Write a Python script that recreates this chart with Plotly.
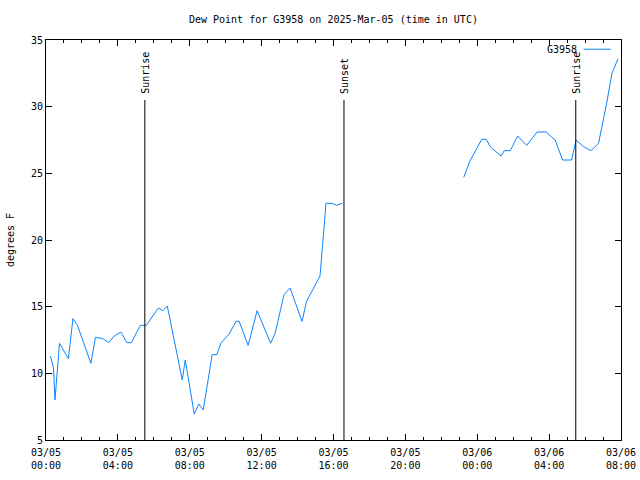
import plotly.graph_objects as go

# ---- data ----
times = [
    "2025-03-05 00:15", "2025-03-05 00:25", "2025-03-05 00:30", "2025-03-05 00:45",
    "2025-03-05 01:15", "2025-03-05 01:30", "2025-03-05 01:45", "2025-03-05 02:30",
    "2025-03-05 02:45", "2025-03-05 03:10", "2025-03-05 03:30", "2025-03-05 03:45",
    "2025-03-05 04:10", "2025-03-05 04:30", "2025-03-05 04:45", "2025-03-05 05:15",
    "2025-03-05 05:35", "2025-03-05 06:15", "2025-03-05 06:30", "2025-03-05 06:45",
    "2025-03-05 07:35", "2025-03-05 07:45", "2025-03-05 08:15", "2025-03-05 08:30",
    "2025-03-05 08:45", "2025-03-05 09:15", "2025-03-05 09:30", "2025-03-05 09:45",
    "2025-03-05 10:10", "2025-03-05 10:35", "2025-03-05 10:45", "2025-03-05 11:15",
    "2025-03-05 11:45", "2025-03-05 12:30", "2025-03-05 12:45", "2025-03-05 13:15",
    "2025-03-05 13:35", "2025-03-05 14:15", "2025-03-05 14:30", "2025-03-05 15:15",
    "2025-03-05 15:35", "2025-03-05 15:55", "2025-03-05 16:10", "2025-03-05 16:30",
    "2025-03-05 20:00",
    "2025-03-05 23:15", "2025-03-05 23:35", "2025-03-06 00:15", "2025-03-06 00:30",
    "2025-03-06 00:45", "2025-03-06 01:20", "2025-03-06 01:30", "2025-03-06 01:50",
    "2025-03-06 02:15", "2025-03-06 02:45", "2025-03-06 03:20", "2025-03-06 03:50",
    "2025-03-06 04:20", "2025-03-06 04:45", "2025-03-06 05:15", "2025-03-06 05:30",
    "2025-03-06 05:55", "2025-03-06 06:20", "2025-03-06 06:45", "2025-03-06 07:10",
    "2025-03-06 07:30", "2025-03-06 07:50",
]
dew_point = [
    11.3, 10.4, 8.0, 12.25,
    11.1, 14.1, 13.6, 10.75,
    12.7, 12.6, 12.3, 12.75,
    13.1, 12.3, 12.3, 13.6,
    13.6, 14.9, 14.7, 15.05,
    9.5, 11.0, 6.95, 7.7,
    7.25, 11.4, 11.4, 12.3,
    12.9, 13.9, 13.9, 12.1,
    14.7, 12.25, 13.0, 15.9,
    16.4, 13.9, 15.4, 17.3,
    22.75, 22.75, 22.6, 22.75,
    None,
    24.7, 25.9, 27.55, 27.55,
    26.95, 26.3, 26.7, 26.7,
    27.8, 27.1, 28.1, 28.1,
    27.5, 26.0, 26.0, 27.5,
    27.0, 26.7, 27.25, 30.0,
    32.5, 33.6,
]
sun_events = ["2025-03-05 05:30", "2025-03-05 16:35", "2025-03-06 05:29"]
sun_labels = ["Sunrise", "Sunset", "Sunrise"]
sun_line_top = 30.5

tick_vals = ["2025-03-05 00:00", "2025-03-05 04:00", "2025-03-05 08:00",
             "2025-03-05 12:00", "2025-03-05 16:00", "2025-03-05 20:00",
             "2025-03-06 00:00", "2025-03-06 04:00", "2025-03-06 08:00"]
tick_text = ["03/05<br>00:00", "03/05<br>04:00", "03/05<br>08:00",
             "03/05<br>12:00", "03/05<br>16:00", "03/05<br>20:00",
             "03/06<br>00:00", "03/06<br>04:00", "03/06<br>08:00"]
y_ticks = [5, 10, 15, 20, 25, 30, 35]
series_name = "G3958"

FONT = "DejaVu Sans Mono"
LINE_COLOR = "#0a84ff"

fig = go.Figure()
fig.add_trace(go.Scatter(x=times, y=dew_point, mode="lines", name=series_name,
                         line=dict(color=LINE_COLOR, width=1), connectgaps=False,
                         showlegend=False))

for t, lab in zip(sun_events, sun_labels):
    fig.add_shape(type="line", x0=t, x1=t, y0=5, y1=sun_line_top, xref="x", yref="y",
                  line=dict(color="black", width=1))
    fig.add_annotation(x=t, y=sun_line_top, xref="x", yref="y", text=lab,
                       textangle=-90, showarrow=False, xanchor="center",
                       yanchor="bottom", yshift=4,
                       font=dict(family=FONT, size=10, color="black"))

# legend (gnuplot style: label then sample line)
fig.add_annotation(x=0.927, y=0.977, xref="paper", yref="paper", text=series_name,
                   showarrow=False, xanchor="right", yanchor="middle",
                   font=dict(family=FONT, size=10, color="black"))
fig.add_shape(type="line", x0=0.935, x1=0.982, y0=0.977, y1=0.977,
              xref="paper", yref="paper", line=dict(color=LINE_COLOR, width=1))

fig.update_layout(
    width=640, height=480,
    margin=dict(l=46, r=19, t=40, b=40, autoexpand=False),
    paper_bgcolor="white", plot_bgcolor="white",
    font=dict(family=FONT, size=10, color="black"),
    title=dict(text="Dew Point for G3958 on 2025-Mar-05 (time in UTC)",
               x=0.521, xref="container", xanchor="center",
               y=1 - 19 / 480, yref="container", yanchor="middle",
               font=dict(family=FONT, size=10, color="black")),
)
fig.update_xaxes(
    type="date", range=["2025-03-05 00:00", "2025-03-06 08:00"], automargin=False,
    tickmode="array", tickvals=tick_vals, ticktext=tick_text,
    ticks="inside", ticklen=6, tickcolor="black", tickwidth=1,
    minor=dict(dtick=3600000, ticks="inside", ticklen=3, tickcolor="black", showgrid=False),
    showline=True, linecolor="black", linewidth=1, mirror="ticks",
    showgrid=False, zeroline=False, tickangle=0, ticklabelstandoff=3,
)
fig.update_yaxes(
    range=[5, 35], tickmode="array", tickvals=y_ticks, automargin=False,
    ticks="inside", ticklen=6, tickcolor="black", tickwidth=1,
    showline=True, linecolor="black", linewidth=1, mirror="ticks",
    showgrid=False, zeroline=False,
    title=dict(text="degrees F", standoff=14, font=dict(family=FONT, size=10)),
)

fig.write_html("out.html")
